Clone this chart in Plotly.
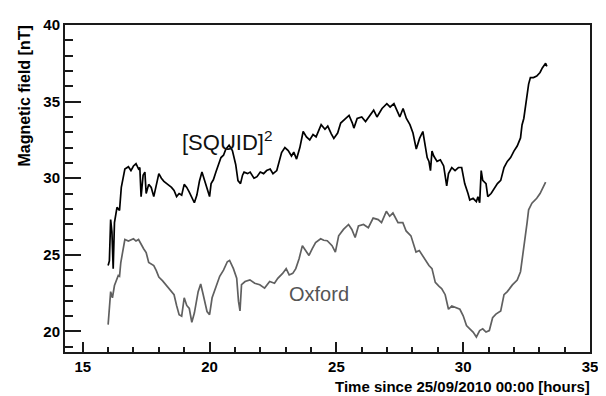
import plotly.graph_objects as go

# SQUID^2 series (time in hours, field in nT)
squid_t = [16.00, 16.05, 16.10, 16.15, 16.20, 16.25, 16.35, 16.45, 16.52, 16.66, 16.80, 16.90,
           17.00, 17.10, 17.20, 17.25, 17.30, 17.38, 17.45, 17.50, 17.60, 17.70, 17.80, 17.90,
           18.00, 18.10, 18.20, 18.35, 18.50, 18.60, 18.70, 18.80, 18.90, 19.00, 19.10, 19.20,
           19.30, 19.40, 19.50, 19.60, 19.70, 19.80, 19.95, 20.00, 20.06, 20.15, 20.25, 20.35,
           20.45, 20.55, 20.64, 20.77, 20.90, 21.03, 21.12, 21.22, 21.30, 21.36, 21.50, 21.60,
           21.75, 21.87, 22.00, 22.13, 22.25, 22.39, 22.50, 22.65, 22.72, 22.84, 22.97, 23.10,
           23.23, 23.32, 23.43, 23.56, 23.69, 23.82, 23.95, 24.08, 24.20, 24.40, 24.55, 24.66,
           24.80, 24.90, 25.05, 25.17, 25.37, 25.50, 25.63, 25.69, 25.82, 26.00, 26.15, 26.27,
           26.47, 26.60, 26.80, 26.99, 27.12, 27.27, 27.40, 27.50, 27.63, 27.76, 27.90, 28.02,
           28.15, 28.28, 28.41, 28.52, 28.58, 28.65, 28.71, 28.77, 28.84, 28.97, 29.10, 29.23,
           29.35, 29.42, 29.55, 29.68, 29.81, 29.94, 30.00, 30.06, 30.19, 30.26, 30.39, 30.52,
           30.58, 30.65, 30.71, 30.77, 30.90, 30.97, 31.10, 31.23, 31.35, 31.48, 31.61, 31.74,
           31.87, 32.00, 32.13, 32.26, 32.32, 32.39, 32.45, 32.52, 32.58, 32.65, 32.77, 32.90,
           33.03, 33.12, 33.25, 33.30]
squid_b = [24.3, 24.6, 27.3, 26.5, 24.1, 27.1, 28.1, 27.9, 29.4, 30.6, 30.75, 30.5,
           30.8, 30.95, 30.6, 30.7, 28.8, 30.2, 30.4, 29.0, 29.6, 29.4, 28.8, 29.5,
           30.3, 30.0, 29.8, 29.6, 29.4, 29.2, 28.8, 29.0, 28.9, 29.6, 29.4, 29.1,
           28.7, 28.4, 28.9, 29.8, 30.4, 29.9, 29.2, 28.8, 29.65, 29.9, 30.4, 30.9,
           31.35, 31.5, 31.9, 32.15, 31.8, 30.9, 29.85, 29.65, 30.2, 30.4, 30.3, 30.4,
           30.0, 30.1, 30.4, 30.3, 30.5, 30.6, 30.3, 30.5, 30.9, 31.67, 32.0, 31.8,
           31.45, 31.7, 31.25, 32.0, 33.05, 32.7, 32.5, 32.85, 32.7, 33.5, 33.2, 33.4,
           32.9, 32.6, 32.95, 33.6, 33.9, 34.1, 33.6, 33.27, 33.9, 34.0, 33.7, 34.0,
           34.44, 34.0, 34.55, 34.87, 34.65, 34.87, 34.33, 34.0, 34.55, 33.9, 33.5, 32.95,
           31.9, 32.6, 33.05, 31.77, 31.35, 31.1, 30.5, 31.77, 31.45, 31.1, 31.2, 30.8,
           29.5, 30.3, 30.7, 30.5, 30.7, 30.7, 30.18, 29.65, 29.0, 28.58, 28.69, 28.47,
           28.8, 28.4, 30.5, 29.86, 29.65, 28.8, 29.0, 29.3, 29.65, 29.86, 30.7, 31.1,
           31.35, 31.77, 32.1, 32.63, 33.48, 33.9, 34.65, 35.4, 36.14, 36.57, 36.57, 36.67,
           36.9, 37.2, 37.5, 37.3]

# Oxford series
oxford_t = [16.00, 16.06, 16.10, 16.17, 16.25, 16.40, 16.45, 16.50, 16.66, 16.80, 17.00, 17.10,
            17.20, 17.40, 17.50, 17.60, 17.80, 17.90, 18.00, 18.15, 18.30, 18.50, 18.60, 18.70,
            18.80, 18.90, 19.00, 19.10, 19.20, 19.30, 19.40, 19.55, 19.65, 19.75, 19.90, 20.00,
            20.10, 20.25, 20.40, 20.55, 20.70, 20.79, 20.94, 21.07, 21.14, 21.20, 21.26, 21.40,
            21.59, 21.78, 21.98, 22.17, 22.37, 22.56, 22.69, 22.88, 23.02, 23.14, 23.28, 23.40,
            23.53, 23.66, 23.79, 23.92, 24.05, 24.18, 24.38, 24.50, 24.64, 24.83, 24.96, 25.09,
            25.28, 25.48, 25.61, 25.74, 25.87, 26.07, 26.26, 26.45, 26.65, 26.78, 26.97, 27.10,
            27.23, 27.43, 27.62, 27.75, 27.94, 28.07, 28.14, 28.27, 28.46, 28.65, 28.77, 28.90,
            29.05, 29.15, 29.29, 29.42, 29.55, 29.74, 29.87, 30.00, 30.13, 30.26, 30.39, 30.52,
            30.65, 30.77, 30.90, 31.03, 31.16, 31.29, 31.48, 31.61, 31.74, 31.94, 32.13, 32.26,
            32.32, 32.39, 32.45, 32.52, 32.58, 32.71, 32.90, 33.03, 33.16, 33.25]
oxford_b = [20.45, 21.5, 22.6, 22.2, 23.0, 23.65, 23.6, 24.5, 26.0, 25.9, 26.05, 25.9,
            26.0, 25.4, 25.15, 24.5, 24.3, 23.97, 23.55, 23.3, 23.0, 22.6, 22.4, 21.7,
            21.1, 21.0, 22.2, 21.7, 21.5, 20.6, 21.2, 22.6, 23.1, 22.4, 21.3, 21.1,
            22.2, 22.9, 23.6, 24.0, 24.55, 24.64, 24.1, 23.47, 21.98, 21.34, 23.05, 23.26,
            23.37, 23.15, 23.05, 22.83, 23.26, 23.15, 23.47, 23.79, 24.1, 23.69, 23.79, 24.1,
            24.75, 25.6, 25.28, 24.96, 25.4, 25.8, 26.05, 25.95, 25.92, 25.6, 25.18, 26.24,
            26.66, 26.98, 26.66, 26.13, 26.88, 26.98, 26.77, 27.4, 27.3, 27.1, 27.84, 27.52,
            27.73, 27.1, 27.1, 26.56, 26.24, 25.6, 25.18, 25.28, 24.8, 24.3, 24.1, 23.2,
            22.94, 22.8, 22.4, 21.45, 21.66, 21.55, 21.45, 21.02, 20.38, 20.17, 19.96, 19.64,
            20.06, 20.17, 19.96, 20.06, 20.9, 21.13, 21.34, 22.4, 22.6, 23.04, 23.36, 23.9,
            24.75, 25.4, 26.24, 27.1, 27.94, 28.37, 28.69, 29.0, 29.43, 29.75]

x_ticks = [15, 20, 25, 30, 35]
y_ticks = [20, 25, 30, 35, 40]
x_range = [14.3, 35]
y_range = [18.66, 40]

fig = go.Figure()
fig.add_trace(go.Scatter(x=squid_t, y=squid_b, mode="lines",
                         line=dict(color="#000000", width=1.7), showlegend=False))
fig.add_trace(go.Scatter(x=oxford_t, y=oxford_b, mode="lines",
                         line=dict(color="#606060", width=1.7), showlegend=False))
# empty trace that carries the overlay axes used for the minor ticks
fig.add_trace(go.Scatter(x=[], y=[], xaxis="x2", yaxis="y2", showlegend=False,
                         hoverinfo="skip"))

tickfont = dict(family="Liberation Sans", size=15, color="#000000")
frame = "#1a1a1a"

# the page body adds an 8px offset; figure size/margins compensate for it
fig.update_layout(
    width=598, height=388,
    margin=dict(l=57, r=8, t=10, b=44),
    paper_bgcolor="#ffffff", plot_bgcolor="rgba(0,0,0,0)",
    xaxis=dict(range=x_range, tickvals=x_ticks,
               ticktext=["<b>%d</b>" % v for v in x_ticks],
               ticks="inside", ticklen=10, tickwidth=2, tickcolor=frame,
               showgrid=False, zeroline=False, showline=True, linecolor=frame,
               linewidth=2, mirror=True, tickfont=tickfont),
    yaxis=dict(range=y_range, tickvals=y_ticks,
               ticktext=["<b>%d</b>" % v for v in y_ticks],
               ticks="inside", ticklen=16, tickwidth=2, tickcolor=frame,
               showgrid=False, zeroline=False, showline=True, linecolor=frame,
               linewidth=2, mirror=True, tickfont=tickfont),
    xaxis2=dict(range=x_range, overlaying="x", anchor="y2", side="bottom",
                tickmode="linear", tick0=15, dtick=1, ticks="inside", ticklen=5,
                tickwidth=2, tickcolor=frame, showticklabels=False,
                showgrid=False, zeroline=False, showline=False),
    yaxis2=dict(range=y_range, overlaying="y", anchor="x2", side="left",
                tickmode="linear", tick0=20, dtick=1, ticks="inside", ticklen=8,
                tickwidth=2, tickcolor=frame, showticklabels=False,
                showgrid=False, zeroline=False, showline=False),
    annotations=[
        dict(text="[SQUID]<sup>2</sup>",
             x=18.85, y=32.4, xref="x", yref="y",
             xanchor="left", yanchor="middle", showarrow=False,
             font=dict(family="Liberation Sans", size=22, color="#111111")),
        dict(text="Oxford", x=23.05, y=22.43, xref="x", yref="y",
             xanchor="left", yanchor="middle", showarrow=False,
             font=dict(family="Liberation Sans", size=20, color="#555555")),
        dict(text="<b>Time since 25/09/2010 00:00 [hours]</b>", x=1.004, y=-0.104,
             xref="paper", yref="paper", xanchor="right", yanchor="middle",
             showarrow=False,
             font=dict(family="Liberation Sans", size=15, color="#000000")),
        dict(text="<b>Magnetic field [nT]</b>", x=-0.078, y=1.003, xref="paper",
             yref="paper", xanchor="center", yanchor="top", textangle=-90,
             showarrow=False,
             font=dict(family="Liberation Sans", size=16, color="#000000")),
    ],
)

fig.write_html("out.html")
